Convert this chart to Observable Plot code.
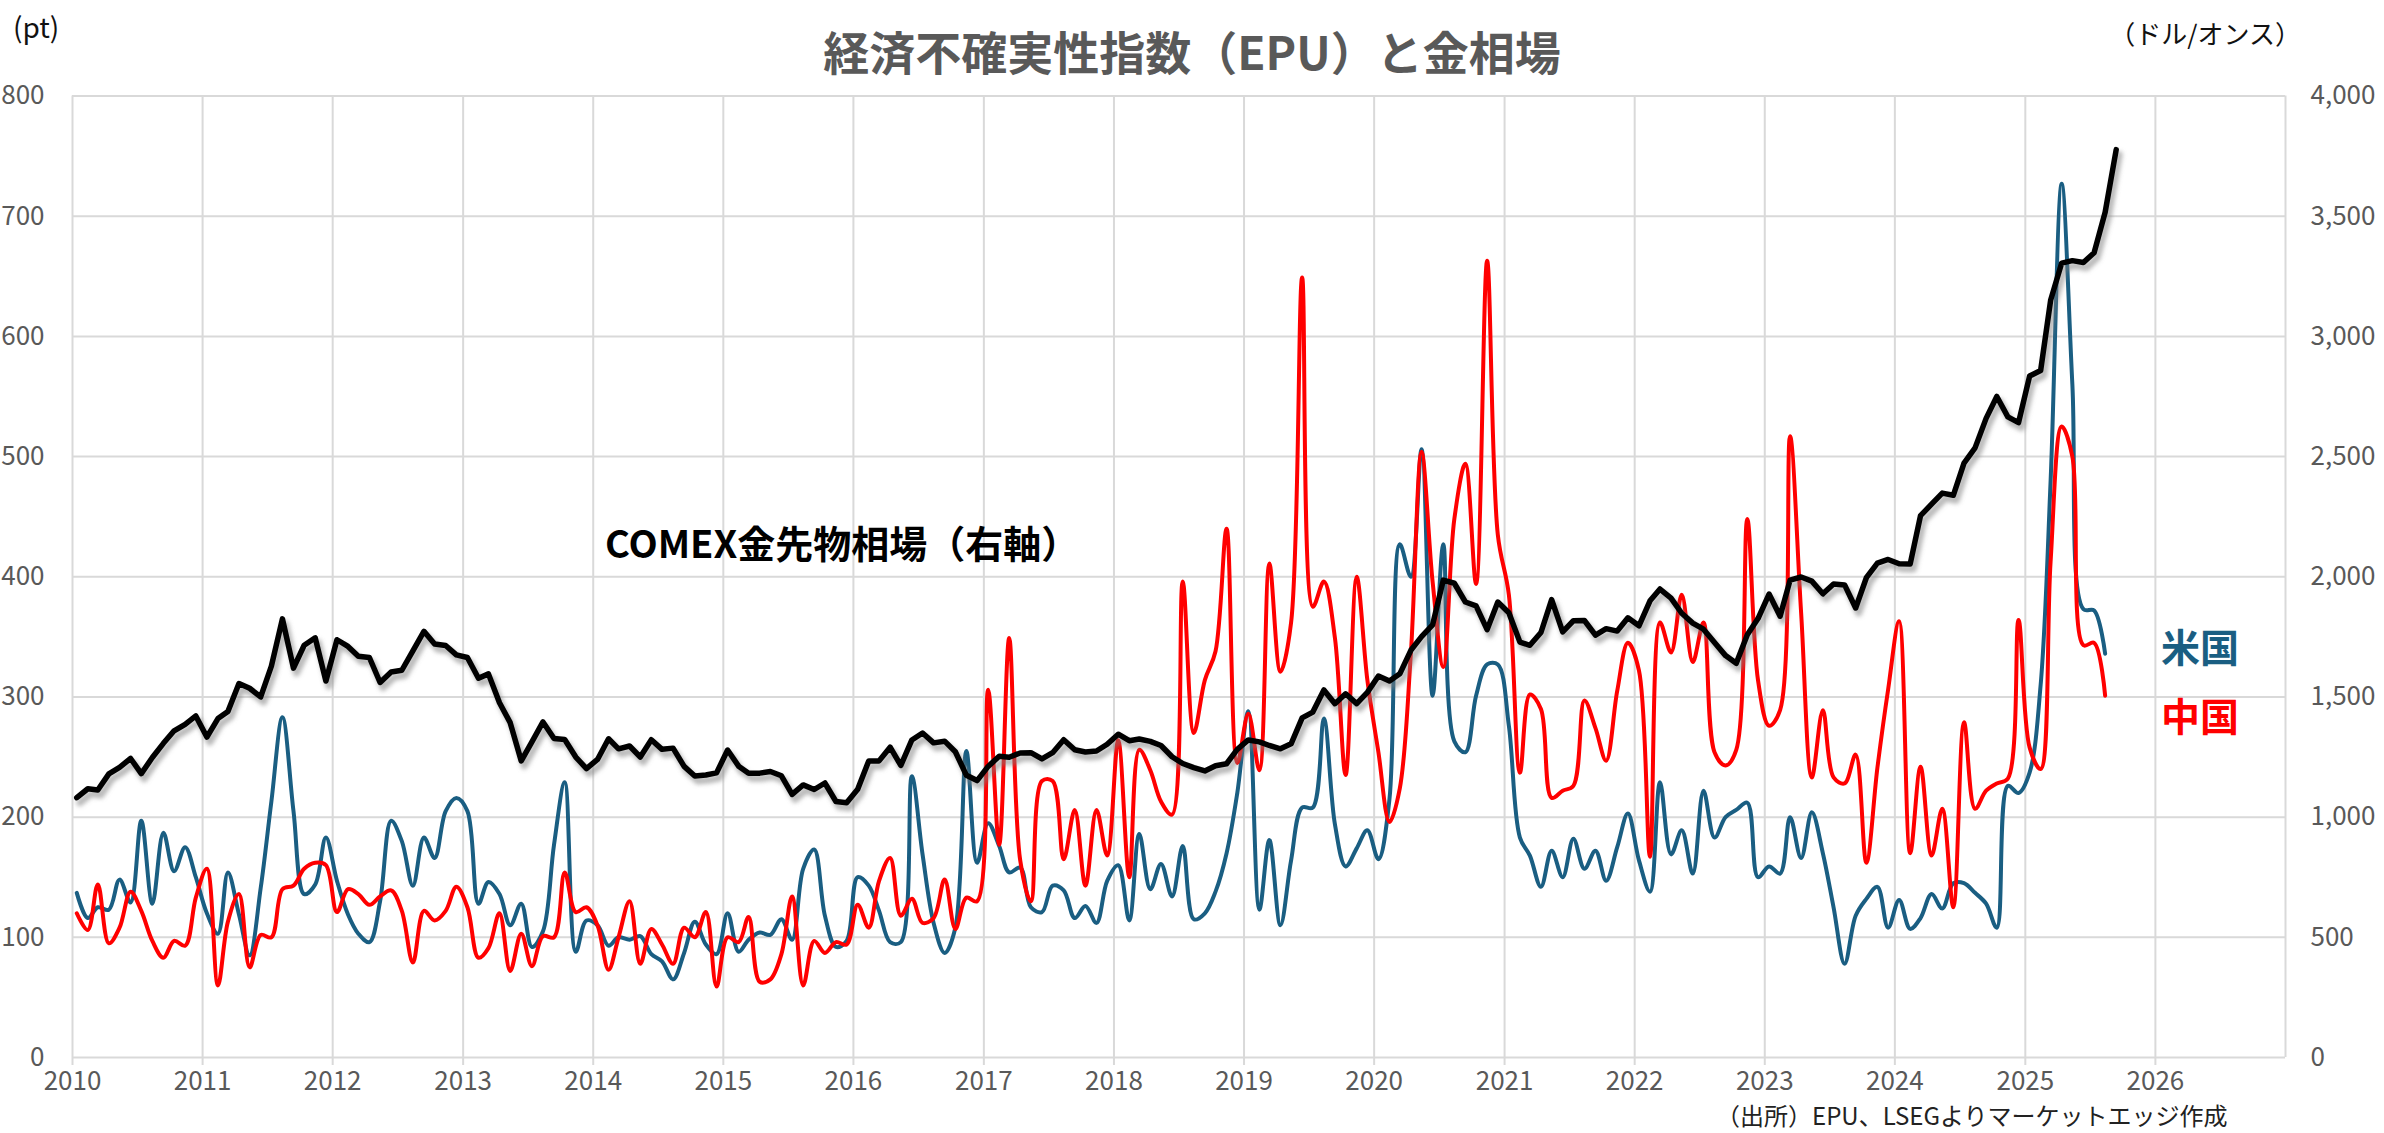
<!DOCTYPE html>
<html><head><meta charset="utf-8">
<script src="https://cdn.jsdelivr.net/npm/d3@7"></script>
<script src="https://cdn.jsdelivr.net/npm/@observablehq/plot@0.6"></script>
<style>
html,body{margin:0;padding:0;background:#fff;}
#wrap{position:relative;width:2384px;height:1133px;font-family:'Noto Sans CJK JP','Noto Sans',sans-serif;overflow:hidden;}
.lbl{position:absolute;white-space:nowrap;line-height:1;}
</style></head><body><div id="wrap"></div>
<script>
// Monthly series starting January 2010
const startYear = 2010;

// US EPU (pt), Jan 2010 - Aug 2025
const usEPU = [
  137,116,125,123,148,129,197,128,187,155,175,150,
  120,103,154,119,85,141,213,283,205,136,144,183,
  147,119,103,96,130,197,180,143,183,166,205,216,
  205,128,146,136,110,128,92,105,177,229,88,114,
  110,93,100,98,101,86,80,65,87,113,94,86,
  120,88,98,104,102,115,98,157,173,118,92,97,
  150,143,122,96,96,234,169,112,87,108,255,162,
  195,176,154,158,125,121,143,139,116,126,112,147,
  160,114,186,140,161,134,176,115,120,138,170,220,
  288,123,181,110,164,208,208,282,194,159,174,189,
  165,215,427,400,506,301,427,263,254,301,327,327,
  276,183,168,142,172,150,182,157,172,147,175,203,
  164,138,229,169,189,153,222,183,200,206,212,150,
  159,153,200,166,204,170,125,78,118,132,142,108,
  131,107,116,136,124,145,145,137,128,108,226,220,
  237,310,480,727,560,373,372,336
];

// China EPU (pt), Jan 2010 - Aug 2025
const chinaEPU = [
  120,106,144,95,108,138,122,97,83,97,93,133,
  157,60,113,136,75,102,100,140,143,157,162,160,
  121,140,136,127,134,139,122,79,122,114,122,142,
  125,83,91,120,72,103,76,101,100,154,121,125,
  110,73,100,130,78,107,94,78,108,100,121,59,
  100,96,117,63,65,86,134,60,97,87,96,94,
  127,108,147,166,118,132,112,116,148,107,133,130,
  306,177,349,164,130,230,230,165,206,143,206,168,
  264,150,256,239,213,202,396,270,314,338,440,245,
  286,239,411,321,362,649,375,396,349,235,400,314,
  254,196,224,336,504,396,325,448,494,394,663,435,
  385,237,302,290,216,222,226,297,274,247,305,345,
  322,167,362,337,385,329,362,254,243,256,448,314,
  276,289,517,370,233,289,233,228,252,162,241,306,
  363,170,242,168,207,125,279,207,222,228,232,364,
  258,240,413,525,500,343,345,301
];

// COMEX gold futures (USD/oz), Jan 2010 - Sep 2025
const goldPrice = [
  1081,1118,1113,1180,1207,1244,1181,1248,1307,1359,1386,1421,
  1333,1410,1439,1556,1536,1500,1628,1825,1620,1715,1746,1566,
  1738,1710,1669,1664,1560,1604,1611,1692,1773,1720,1714,1675,
  1664,1578,1596,1476,1393,1234,1313,1396,1327,1323,1250,1202,
  1240,1326,1284,1296,1250,1322,1282,1287,1211,1171,1175,1184,
  1279,1212,1183,1183,1190,1172,1095,1134,1115,1142,1065,1060,
  1116,1234,1234,1291,1215,1321,1350,1309,1316,1272,1174,1152,
  1211,1253,1249,1267,1268,1242,1268,1322,1280,1271,1275,1303,
  1345,1318,1325,1315,1298,1251,1223,1206,1192,1214,1222,1282,
  1321,1313,1298,1284,1305,1413,1437,1529,1472,1513,1472,1519,
  1587,1566,1596,1694,1751,1800,1986,1973,1895,1879,1780,1895,
  1850,1728,1715,1768,1905,1771,1817,1818,1757,1784,1774,1829,
  1796,1900,1949,1911,1848,1807,1782,1726,1672,1640,1759,1826,
  1928,1836,1986,1999,1982,1929,1970,1966,1870,1996,2057,2072,
  2054,2053,2254,2302,2348,2339,2473,2536,2659,2750,2665,2641,
  2835,2858,3150,3305,3315,3307,3348,3516,3777
];

const leftTicks = [0,100,200,300,400,500,600,700,800];
const goldPerPt = 5; // right axis 0-4000 maps onto left axis 0-800
const xYears = d3.range(2010, 2028);

const monthDate = i => new Date(Date.UTC(startYear, i, 13));
const usRows = usEPU.map((v, i) => ({date: monthDate(i), v}));
const cnRows = chinaEPU.map((v, i) => ({date: monthDate(i), v}));
const goldRows = goldPrice.map((v, i) => ({date: monthDate(i), v: v / goldPerPt}));
const yearDates = xYears.map(y => new Date(Date.UTC(y, 0, 1)));

const BLUE = "#1a5e82", RED = "#ff0000", GRID = "#d9d9d9", TXT = "#595959";

const chart = Plot.plot({
  width: 2384, height: 1133,
  marginLeft: 72, marginRight: 99, marginTop: 95.5, marginBottom: 76,
  x: {type: "utc", domain: [yearDates[0], yearDates[yearDates.length - 1]]},
  y: {domain: [0, 800]},
  style: {fontFamily: "'Noto Sans CJK JP','Noto Sans',sans-serif", fontSize: "26px", color: TXT, background: "#fff", overflow: "visible"},
  marks: [
    Plot.gridX(yearDates, {stroke: GRID, strokeOpacity: 1, strokeWidth: 2}),
    Plot.gridY(leftTicks, {stroke: GRID, strokeOpacity: 1, strokeWidth: 2}),
    Plot.axisX(yearDates.slice(0, -1), {tickFormat: d => String(d.getUTCFullYear()), tickSize: 8, tickPadding: 6, stroke: GRID, strokeWidth: 2, fill: TXT, label: null}),
    Plot.axisY(leftTicks, {anchor: "left", tickSize: 0, tickPadding: 28, fill: TXT, label: null}),
    Plot.axisY(leftTicks, {anchor: "right", tickSize: 0, tickPadding: 25, fill: TXT, label: null, tickFormat: d => d3.format(",")(d * goldPerPt)}),
    Plot.line(usRows, {x: "date", y: "v", stroke: BLUE, strokeWidth: 4, curve: "catmull-rom"}),
    Plot.line(cnRows, {x: "date", y: "v", stroke: RED, strokeWidth: 4, curve: "catmull-rom"}),
    Plot.line(goldRows, {x: "date", y: "v", stroke: "#808080", strokeOpacity: 0.55, strokeWidth: 7, dx: 3, dy: 5}),
    Plot.line(goldRows, {x: "date", y: "v", stroke: "#000000", strokeWidth: 5.5})
  ]
});

const svg = d3.select(chart);
svg.insert("defs", ":first-child").html('<filter id="sh" x="-5%" y="-20%" width="110%" height="140%"><feGaussianBlur stdDeviation="2.2"/></filter>');
svg.selectAll("g").filter(function(){ return this.getAttribute("stroke") === "#808080"; }).attr("filter", "url(#sh)");

const wrap = document.getElementById("wrap");
chart.style.position = "absolute"; chart.style.left = "0"; chart.style.top = "0";
wrap.appendChild(chart);

function label(text, css) {
  const d = document.createElement("div");
  d.className = "lbl"; d.textContent = text;
  Object.assign(d.style, css);
  wrap.appendChild(d);
}
label("経済不確実性指数（EPU）と金相場", {left: "0", width: "2384px", textAlign: "center", top: "27px", fontSize: "46px", fontWeight: "bold", color: TXT});
label("(pt)", {left: "13px", top: "12px", fontSize: "28px", color: "#111"});
label("（ドル/オンス）", {right: "83px", top: "20px", fontSize: "26px", color: "#111"});
label("COMEX金先物相場（右軸）", {left: "605px", top: "523px", fontSize: "38px", fontWeight: "bold", color: "#000"});
label("米国", {left: "2161px", top: "626px", fontSize: "39px", fontWeight: "bold", color: BLUE});
label("中国", {left: "2161px", top: "695px", fontSize: "39px", fontWeight: "bold", color: RED});
label("（出所）EPU、LSEGよりマーケットエッジ作成", {left: "1716px", top: "1103px", fontSize: "24px", color: "#222"});
</script></body></html>
